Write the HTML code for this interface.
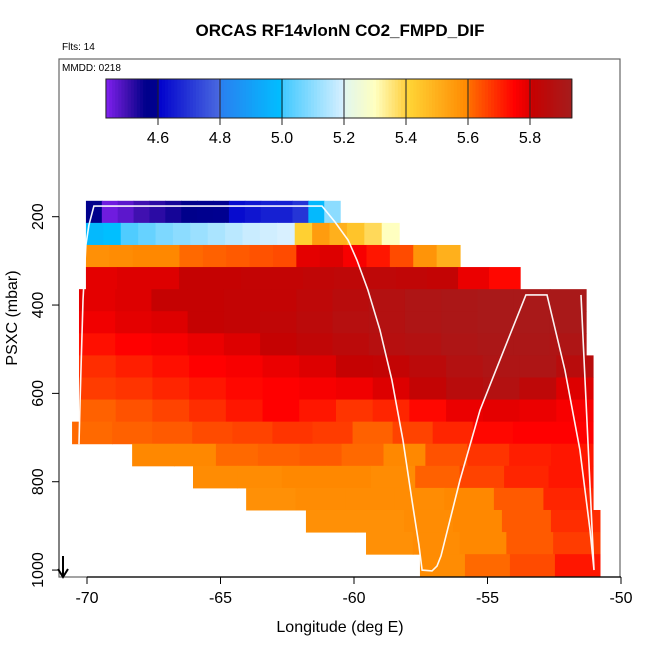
<!DOCTYPE html>
<html><head><meta charset="utf-8"><style>
html,body{margin:0;padding:0;background:#fff;}
svg{display:block;font-family:"Liberation Sans",sans-serif;}
</style></head><body>
<svg id="chart" width="650" height="650" viewBox="0 0 650 650" xmlns="http://www.w3.org/2000/svg">
<rect x="0" y="0" width="650" height="650" fill="#fff"/>
<text x="340" y="36" text-anchor="middle" font-size="17" font-weight="bold">ORCAS RF14vlonN CO2_FMPD_DIF</text>
<text x="62" y="50" font-size="10">Flts: 14</text>
<g id="cells"></g>
<g id="track"></g>
<rect x="59" y="59" width="561" height="518" fill="none" stroke="#666" stroke-width="1.2"/>
<text x="62" y="71" font-size="10">MMDD: 0218</text>
<g id="cbar"></g>
<g id="axes"></g>
<text x="340" y="632" text-anchor="middle" font-size="16">Longitude (deg E)</text>
<text transform="translate(17,318) rotate(-90)" text-anchor="middle" font-size="16">PSXC (mbar)</text>
<g>
<line x1="63" y1="556" x2="63" y2="576" stroke="#000" stroke-width="2"/>
<polyline points="58,569 63,577 68,569" fill="none" stroke="#000" stroke-width="2"/>
</g>
</svg>
<script>
// ---- data ----
const rowTop = [164,214,264,314,364,414,464,514,564,614,664,714,764,814,864,914,964];
const rowLonStart = [-70.04,-70.04,-70.04,-70.04,-70.3,-70.3,-70.3,-70.3,-70.3,-70.3,-70.56,-68.31,-66.03,-64.04,-61.8,-59.55,-57.53];
const rowLonEnd = [-60.52,-58.31,-56.03,-53.78,-51.31,-51.31,-51.31,-51.05,-51.05,-51.05,-51.05,-51.05,-51.05,-51.05,-50.79,-50.79,-50.79];
const rowValues = [
 [4.57,4.45,4.47,4.5,4.52,4.54,4.56,4.58,4.6,4.62,4.64,4.66,4.66,4.7,4.98,5.1],
 [4.98,5.0,5.02,5.05,5.08,5.1,5.12,5.14,5.16,5.18,5.19,5.2,5.42,5.55,5.5,5.45,5.38,5.3],
 [5.58,5.59,5.6,5.6,5.61,5.62,5.63,5.64,5.65,5.79,5.8,5.76,5.72,5.65,5.57,5.5],
 [5.79,5.8,5.8,5.81,5.81,5.82,5.82,5.83,5.84,5.84,5.83,5.82,5.78,5.74],
 [5.79,5.8,5.81,5.81,5.82,5.82,5.84,5.86,5.88,5.9,5.91,5.92,5.92,5.92],
 [5.77,5.79,5.8,5.81,5.82,5.83,5.85,5.87,5.88,5.9,5.91,5.92,5.92,5.92],
 [5.73,5.75,5.76,5.78,5.8,5.81,5.83,5.85,5.87,5.88,5.9,5.91,5.91,5.9],
 [5.69,5.71,5.73,5.75,5.76,5.78,5.8,5.81,5.82,5.85,5.88,5.9,5.9,5.86],
 [5.67,5.68,5.7,5.72,5.74,5.75,5.76,5.77,5.8,5.82,5.86,5.88,5.84,5.8],
 [5.62,5.64,5.66,5.69,5.72,5.75,5.72,5.68,5.7,5.74,5.78,5.79,5.78,5.76],
 [5.61,5.62,5.63,5.65,5.66,5.68,5.67,5.62,5.66,5.7,5.74,5.75,5.75],
 [5.6,5.6,5.61,5.62,5.63,5.61,5.6,5.64,5.68,5.71,5.72],
 [5.59,5.59,5.6,5.6,5.59,5.62,5.66,5.7,5.72],
 [5.58,5.59,5.59,5.59,5.6,5.63,5.7],
 [5.58,5.58,5.59,5.6,5.63,5.69],
 [5.58,5.59,5.6,5.63,5.67],
 [5.59,5.61,5.65,5.72]
];
const trackLon = [-70.30,-70.26,-70.15,-70.04,-69.93,-69.74,-61.20,-60.71,-60.22,-59.89,-59.48,-59.03,-58.58,-58.17,-57.83,-57.57,-57.45,-57.08,-56.89,-56.74,-56.03,-55.28,-54.53,-53.56,-52.77,-52.10,-51.54,-51.16,-51.01,-51.50];
const trackPres = [715,615,389,264,219,176,176,212,253,298,366,456,570,705,841,943,1000,1002,991,968,796,638,524,377,377,547,728,909,1000,377];
const xTicks = [-70,-65,-60,-55,-50];
const yTicks = [200,400,600,800,1000];
const cbTicks = [4.6,4.8,5.0,5.2,5.4,5.6,5.8];
const cbMin = 4.432, cbMax = 5.935;
const stops = [[4.432,"#8020f0"],[4.5,"#4010b0"],[4.56,"#00008b"],[4.6,"#000090"],[4.6001,"#0000cc"],[4.8,"#4a6ae0"],[4.8001,"#2a7ff0"],[5.0,"#00bfff"],[5.0001,"#40c8ff"],[5.2,"#d8f0ff"],[5.2001,"#e0f6f0"],[5.3,"#ffffc0"],[5.4,"#ffd040"],[5.4001,"#ffd838"],[5.6,"#ff8800"],[5.6001,"#ff7000"],[5.75,"#ff0000"],[5.8,"#dd0000"],[5.8001,"#c80000"],[5.935,"#a51c1c"]];
// ---- scales ----
const X = lon => 87 + (lon + 70) * 26.7;
const Y = p => 216.7 + (p - 200) * 0.4417;
const CB = v => 158 + (v - 4.6) * 310;
function hex(h){return [1,3,5].map(i=>parseInt(h.substr(i,2),16));}
function color(v){
  if(v<=stops[0][0]) return stops[0][1];
  for(let i=1;i<stops.length;i++){
    if(v<=stops[i][0]){
      const a=stops[i-1],b=stops[i],t=(v-a[0])/(b[0]-a[0]);
      const ca=hex(a[1]),cb=hex(b[1]);
      return "rgb("+ca.map((c,k)=>Math.round(c+(cb[k]-c)*t)).join(",")+")";
    }
  }
  return stops[stops.length-1][1];
}
const NS="http://www.w3.org/2000/svg";
function mk(tag,attrs,parent){const e=document.createElementNS(NS,tag);for(const k in attrs)e.setAttribute(k,attrs[k]);parent.appendChild(e);return e;}
const defs=mk("defs",{},document.getElementById("chart"));
const cp=mk("clipPath",{id:"plotclip"},defs);
mk("rect",{x:59,y:59,width:561,height:518},cp);
// cells
const cells=document.getElementById("cells");
cells.setAttribute("clip-path","url(#plotclip)");
rowValues.forEach((vals,r)=>{
  const x0=X(rowLonStart[r]),x1=X(rowLonEnd[r]);
  const y0=Y(rowTop[r]),y1=Y(rowTop[r]+50);
  const w=(x1-x0)/vals.length;
  vals.forEach((v,i)=>{
    const c=mk("rect",{x:(x0+i*w).toFixed(2),y:y0.toFixed(2),width:(w+0.6).toFixed(2),height:(y1-y0+0.5).toFixed(2),fill:color(v)},cells);
    
    
  });
});
// track
const tr=document.getElementById("track");
const pl=mk("polyline",{points:trackLon.map((l,i)=>X(l).toFixed(1)+","+Y(trackPres[i]).toFixed(1)).join(" "),fill:"none",stroke:"#fff","stroke-width":"1.6","stroke-opacity":"0.95"},tr);


// colorbar
const cbar=document.getElementById("cbar");
const N=150;
for(let i=0;i<N;i++){
  const v=cbMin+(cbMax-cbMin)*(i+0.5)/N;
  const x=CB(cbMin+(cbMax-cbMin)*i/N);
  const s=mk("rect",{x:x.toFixed(2),y:79,width:((CB(cbMax)-CB(cbMin))/N+0.5).toFixed(2),height:39,fill:color(v)},cbar);
  
  
}
mk("rect",{x:CB(cbMin),y:79,width:CB(cbMax)-CB(cbMin),height:39,fill:"none",stroke:"#222","stroke-width":1},cbar);
cbTicks.forEach(t=>{
  const ln=mk("line",{x1:CB(t),x2:CB(t),y1:79,y2:125,stroke:"#222","stroke-width":1},cbar);
  
  
  const tx=mk("text",{x:CB(t),y:143,"text-anchor":"middle","font-size":16},cbar);
  tx.textContent=t.toFixed(1);
  
  
});
// axes
const ax=document.getElementById("axes");
mk("line",{x1:X(xTicks[0]),x2:X(xTicks[xTicks.length-1]),y1:577,y2:577,stroke:"#000","stroke-width":1.2},ax);
xTicks.forEach(t=>{
  const ln=mk("line",{x1:X(t),x2:X(t),y1:577,y2:584,stroke:"#000","stroke-width":1},ax);
  
  
  const tx=mk("text",{x:X(t),y:603,"text-anchor":"middle","font-size":16},ax);
  tx.textContent=String(t);
  
  
});
mk("line",{x1:59,x2:59,y1:Y(yTicks[0]),y2:Y(yTicks[yTicks.length-1]),stroke:"#444","stroke-width":1.2},ax);
yTicks.forEach(t=>{
  const ln=mk("line",{x1:52,x2:59,y1:Y(t),y2:Y(t),stroke:"#000","stroke-width":1},ax);
  
  
  const tx=mk("text",{transform:"translate(43,"+Y(t)+") rotate(-90)","text-anchor":"middle","font-size":16},ax);
  tx.textContent=String(t);
  
  
});
</script>
</body></html>
